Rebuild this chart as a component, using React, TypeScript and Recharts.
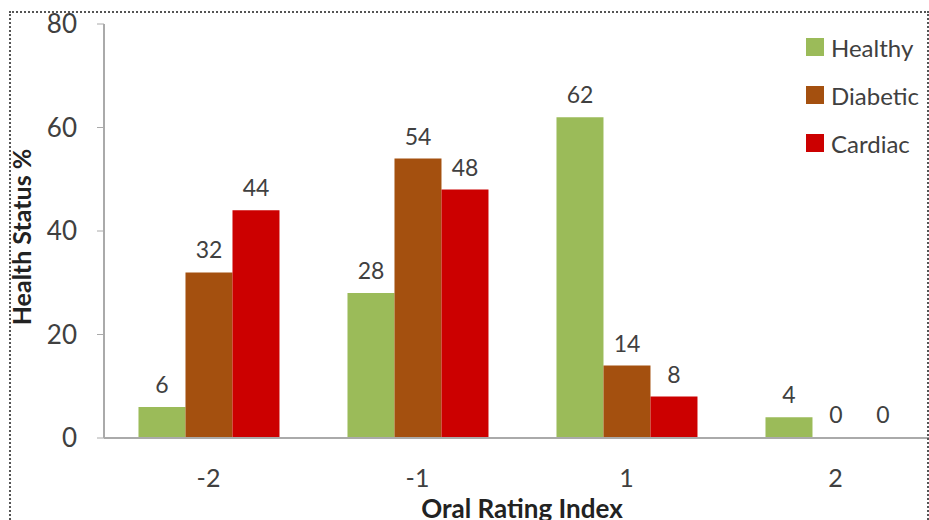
import React from "react";
import { BarChart, Bar, XAxis, YAxis, LabelList } from "recharts";

const categories = ["-2", "-1", "1", "2"];
const healthy = [6, 28, 62, 4];
const diabetic = [32, 54, 14, 0];
const cardiac = [44, 48, 8, 0];
const yTicks = [0, 20, 40, 60, 80];

const series = [
  { key: "Healthy", color: "#9BBB59" },
  { key: "Diabetic", color: "#A4500F" },
  { key: "Cardiac", color: "#CC0000" },
];

const data = categories.map((c, i) => ({
  idx: c,
  Healthy: healthy[i],
  Diabetic: diabetic[i],
  Cardiac: cardiac[i],
}));

const FONT = "Lato, 'Open Sans', sans-serif";
const TXT = "#404040";

function LegendBox() {
  return (
    <div style={{ position: "absolute", left: 806, top: 23, fontFamily: FONT, fontSize: 24, color: TXT }}>
      {series.map((s) => (
        <div key={s.key} style={{ display: "flex", alignItems: "center", height: 48, whiteSpace: "nowrap" }}>
          <span style={{ width: 18, height: 18, background: s.color, marginRight: 7 }} />
          {s.key}
        </div>
      ))}
    </div>
  );
}

export default function App() {
  return (
    <div style={{ position: "absolute", left: 0, top: 0, width: 929, height: 520, overflow: "hidden", background: "#fff" }}>
      <BarChart width={945} height={520} data={data}
                margin={{ top: 24, right: 5, bottom: 0, left: 0 }}
                barCategoryGap="16.5%" barGap={0}>
        <XAxis xAxisId="b" type="number" domain={[0, 4]} ticks={[0, 1, 2, 3, 4]}
               height={0} tick={false} axisLine={false} tickSize={7}
               tickLine={{ stroke: "#aaa" }} />
        <XAxis dataKey="idx" height={82} tickLine={false} axisLine={{ stroke: "#aaa", strokeWidth: 2 }}
               tickMargin={24} tickSize={7}
               tick={{ fontSize: 25, fill: TXT, fontFamily: FONT }}
               label={{ value: "Oral Rating Index", position: "insideBottom", offset: 2,
                        fontSize: 26, fontWeight: 700, fill: "#222", fontFamily: FONT }} />
        <YAxis domain={[0, 80]} ticks={yTicks} width={104} tickSize={7} tickMargin={20}
               axisLine={{ stroke: "#aaa", strokeWidth: 2 }} tickLine={{ stroke: "#aaa" }}
               tick={{ fontSize: 26, fill: TXT, fontFamily: FONT }}
               label={{ value: "Health Status %", angle: -90, position: "center", dx: -30, dy: 6,
                        fontSize: 25, fontWeight: 700, fill: "#222", fontFamily: FONT }} />
        {series.map((s) => (
          <Bar key={s.key} dataKey={s.key} fill={s.color} minPointSize={1} isAnimationActive={false}>
            <LabelList dataKey={s.key} position="top" offset={14}
                       style={{ fontSize: 23, fill: TXT, fontFamily: FONT }} />
          </Bar>
        ))}
      </BarChart>
      <LegendBox />
      <div style={{ position: "absolute", left: 9, top: 11, width: 916, height: 540, border: "2px dotted #555", pointerEvents: "none" }} />
    </div>
  );
}
